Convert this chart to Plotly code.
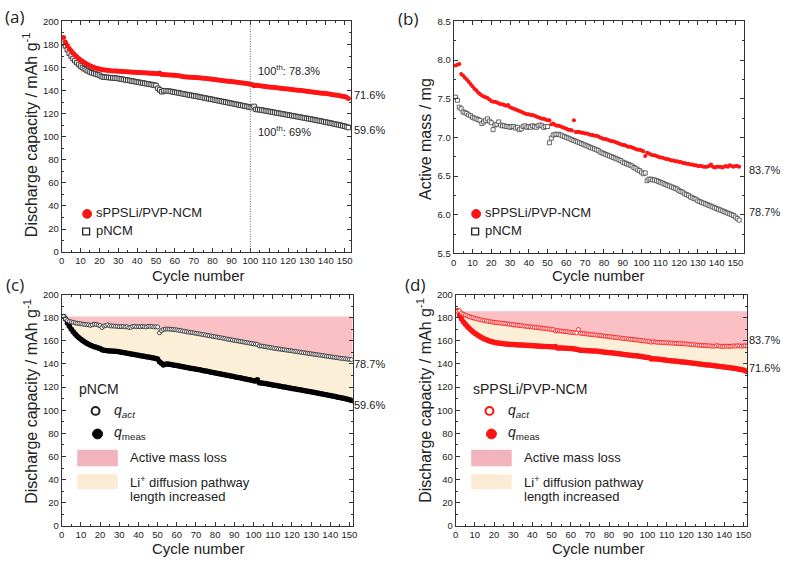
import plotly.graph_objects as go

W, H = 785, 563

# ---------------- data ----------------
cap_sppsli = [
    186.0, 182.0, 179.0, 176.5, 174.5, 172.6, 170.9, 169.3, 167.9, 166.6,
    165.4, 164.3, 163.3, 162.4, 161.6, 160.9, 160.3, 159.7, 159.2, 158.8,
    158.4, 158.1, 157.8, 157.6, 157.4, 157.2, 157.1, 157.0, 156.9, 156.8,
    156.7, 156.6, 156.5, 156.4, 156.3, 156.2, 156.1, 156.0, 155.9, 155.8,
    155.7, 155.6, 155.5, 155.4, 155.3, 155.2, 155.1, 155.0, 154.9, 154.8,
    154.7, 155.2, 153.9, 153.9, 153.8, 153.7, 153.6, 153.5, 153.4, 153.3,
    153.1, 152.9, 152.7, 152.2, 151.9, 151.8, 151.7, 151.6, 151.5, 151.4,
    151.3, 151.2, 151.1, 151.0, 150.8, 150.6, 150.4, 150.2, 150.0, 149.8,
    149.6, 149.4, 149.2, 149.0, 148.8, 148.6, 148.4, 148.2, 148.0, 147.8,
    147.6, 147.4, 147.2, 147.0, 146.8, 146.6, 146.4, 146.1, 145.9, 145.6,
    145.3, 144.3, 144.6, 144.4, 144.2, 144.0, 143.8, 143.6, 143.4, 143.2,
    143.0, 142.8, 142.6, 142.5, 142.3, 142.1, 141.9, 141.7, 141.6, 141.4,
    141.2, 141.0, 140.8, 140.6, 140.4, 140.2, 140.0, 139.8, 139.6, 139.4,
    139.2, 139.0, 138.8, 138.6, 138.4, 138.2, 138.0, 137.8, 137.6, 137.4,
    137.2, 137.0, 136.7, 136.5, 136.2, 136.0, 135.7, 135.4, 135.1, 134.8,
    134.2, 133.2,
]
cap_pncm = [
    181.0, 178.8, 175.5, 172.5, 170.0, 167.8, 165.9, 164.2, 162.7, 161.3,
    160.0, 158.9, 157.9, 157.0, 156.2, 155.5, 154.9, 154.4, 153.9, 153.4,
    152.3, 151.8, 151.6, 151.5, 151.3, 151.2, 151.0, 150.9, 150.7, 150.5,
    150.2, 149.9, 149.6, 149.3, 149.0, 148.7, 148.4, 148.1, 147.8, 147.5,
    147.2, 146.9, 146.6, 146.3, 146.0, 145.7, 145.4, 145.1, 144.8, 144.4,
    142.0, 140.6, 139.0, 139.8, 139.9, 139.7, 139.5, 139.2, 138.9, 138.6,
    138.3, 138.0, 137.7, 137.3, 137.0, 136.7, 136.4, 136.1, 135.8, 135.5,
    135.2, 134.9, 134.5, 134.2, 133.9, 133.6, 133.2, 132.9, 132.6, 132.3,
    131.9, 131.6, 131.3, 131.0, 130.6, 130.3, 130.0, 129.6, 129.3, 129.0,
    128.6, 128.3, 128.0, 127.6, 127.3, 127.0, 126.6, 126.3, 125.9, 125.5,
    125.2, 126.3, 123.7, 123.6, 123.4, 123.1, 122.8, 122.5, 122.2, 121.9,
    121.6, 121.3, 121.0, 120.7, 120.4, 120.1, 119.8, 119.5, 119.2, 118.9,
    118.6, 118.3, 118.0, 117.7, 117.4, 117.1, 116.8, 116.5, 116.2, 115.9,
    115.6, 115.3, 115.0, 114.7, 114.3, 114.0, 113.7, 113.4, 113.0, 112.7,
    112.4, 112.0, 111.7, 111.3, 111.0, 110.6, 110.3, 109.9, 109.5, 109.1,
    108.6, 108.0,
]
mass_sppsli = [
    7.93, 7.94, 7.95, 7.82, 7.80, 7.77, 7.75, 7.72, 7.69, 7.66,
    7.63, 7.61, 7.58, 7.56, 7.54, 7.53, 7.52, 7.51, 7.49, 7.47,
    7.46, 7.46, 7.45, 7.44, 7.43, 7.43, 7.42, 7.41, 7.42, 7.39,
    7.38, 7.37, 7.36, 7.35, 7.34, 7.33, 7.32, 7.31, 7.30, 7.30,
    7.29, 7.29, 7.28, 7.27, 7.26, 7.25, 7.24, 7.24, 7.23, 7.22,
    7.22, 7.17, 7.18, 7.16, 7.15, 7.15, 7.14, 7.13, 7.12, 7.11,
    7.10, 7.10, 7.09, 7.22, 7.07, 7.07, 7.07, 7.06, 7.06, 7.05,
    7.05, 7.04, 7.03, 7.03, 7.02, 7.02, 7.01, 7.00, 6.99, 6.98,
    6.98, 6.97, 6.96, 6.95, 6.95, 6.94, 6.93, 6.92, 6.91, 6.90,
    6.90, 6.89, 6.88, 6.88, 6.87, 6.86, 6.85, 6.84, 6.84, 6.83,
    6.82, 6.76, 6.80, 6.79, 6.78, 6.77, 6.77, 6.76, 6.75, 6.74,
    6.74, 6.73, 6.72, 6.72, 6.71, 6.70, 6.70, 6.69, 6.69, 6.68,
    6.68, 6.67, 6.67, 6.66, 6.66, 6.65, 6.65, 6.64, 6.64, 6.63,
    6.63, 6.63, 6.62, 6.62, 6.62, 6.63, 6.65, 6.62, 6.61, 6.62,
    6.62, 6.62, 6.61, 6.62, 6.63, 6.62, 6.64, 6.63, 6.62, 6.63,
    6.63, 6.62,
]
mass_pncm = [
    7.52, 7.48, 7.39, 7.37, 7.33, 7.32, 7.31, 7.29, 7.28, 7.26,
    7.25, 7.24, 7.23, 7.22, 7.18, 7.20, 7.22, 7.24, 7.21, 7.19,
    7.10, 7.16, 7.17, 7.20, 7.16, 7.15, 7.15, 7.14, 7.14, 7.13,
    7.14, 7.14, 7.12, 7.13, 7.10, 7.11, 7.14, 7.15, 7.13, 7.14,
    7.13, 7.15, 7.14, 7.13, 7.15, 7.16, 7.15, 7.13, 7.14, 7.14,
    6.93, 6.99, 7.03, 7.04, 7.04, 7.04, 7.03, 7.02, 7.01, 7.00,
    6.99, 6.98, 6.97, 6.96, 6.95, 6.94, 6.93, 6.92, 6.91, 6.90,
    6.89, 6.88, 6.87, 6.86, 6.85, 6.84, 6.83, 6.81, 6.80, 6.79,
    6.78, 6.77, 6.76, 6.75, 6.74, 6.73, 6.72, 6.71, 6.70, 6.68,
    6.67, 6.66, 6.65, 6.64, 6.63, 6.61, 6.60, 6.58, 6.57, 6.55,
    6.53, 6.54, 6.44, 6.46, 6.46, 6.45, 6.45, 6.44, 6.43, 6.42,
    6.41, 6.40, 6.39, 6.38, 6.37, 6.36, 6.35, 6.34, 6.33, 6.31,
    6.30, 6.29, 6.27, 6.26, 6.25, 6.23, 6.22, 6.21, 6.20, 6.18,
    6.17, 6.16, 6.15, 6.14, 6.13, 6.12, 6.11, 6.10, 6.09, 6.08,
    6.07, 6.06, 6.05, 6.04, 6.03, 6.02, 6.01, 6.00, 5.99, 5.97,
    5.95, 5.93,
]
qact_pncm = [
    181.0, 179.0, 177.5, 176.8, 176.3, 175.9, 175.5, 175.2, 175.0, 174.7,
    174.4, 174.2, 174.0, 173.8, 173.4, 173.8, 174.4, 174.2, 173.6, 173.2,
    171.5, 172.8, 173.2, 173.8, 173.0, 172.8, 172.8, 172.6, 172.5, 172.3,
    172.3, 172.4, 172.0, 172.2, 171.5, 171.7, 172.4, 172.6, 172.2, 172.3,
    172.1, 172.5, 172.3, 172.0, 172.5, 172.6, 172.4, 172.0, 172.1, 172.0,
    167.0, 168.8, 169.8, 170.2, 170.2, 170.1, 170.0, 169.8, 169.6, 169.4,
    169.1, 168.8, 168.5, 168.2, 167.9, 167.6, 167.4, 167.1, 166.8, 166.5,
    166.2, 165.9, 165.6, 165.3, 165.0, 164.7, 164.4, 164.1, 163.8, 163.5,
    163.2, 162.9, 162.6, 162.3, 162.0, 161.6, 161.3, 161.0, 160.7, 160.4,
    160.1, 159.8, 159.5, 159.2, 158.9, 158.6, 158.3, 158.0, 157.7, 157.4,
    157.2, 157.0, 155.6, 155.5, 155.3, 155.0, 154.7, 154.4, 154.1, 153.8,
    153.5, 153.3, 153.0, 152.8, 152.5, 152.3, 152.0, 151.8, 151.5, 151.3,
    151.0, 150.8, 150.5, 150.3, 150.0, 149.8, 149.5, 149.3, 149.0, 148.8,
    148.5, 148.3, 148.0, 147.8, 147.5, 147.3, 147.0, 146.8, 146.5, 146.3,
    146.0, 145.8, 145.5, 145.3, 145.0, 144.8, 144.6, 144.4, 144.2, 144.0,
    143.8,
]
qact_sppsli = [
    185.5, 186.0, 184.0, 183.0, 182.3, 181.6, 181.0, 180.4, 179.9, 179.4,
    179.0, 178.6, 178.2, 177.8, 177.5, 177.2, 176.9, 176.6, 176.3, 176.0,
    175.8, 175.6, 175.4, 175.2, 175.0, 174.8, 174.6, 174.4, 174.2, 173.9,
    173.7, 173.5, 173.3, 173.1, 172.9, 172.7, 172.5, 172.3, 172.1, 171.9,
    171.7, 171.5, 171.3, 171.1, 170.9, 170.7, 170.5, 170.3, 170.1, 169.9,
    169.7, 168.5, 168.8, 168.6, 168.4, 168.2, 168.0, 167.8, 167.6, 167.4,
    167.2, 167.0, 166.8, 169.8, 166.6, 166.4, 166.2, 166.0, 165.8, 165.6,
    165.4, 165.2, 165.0, 164.8, 164.6, 164.4, 164.2, 164.0, 163.8, 163.6,
    163.4, 163.2, 163.0, 162.8, 162.6, 162.4, 162.2, 162.0, 161.8, 161.6,
    161.4, 161.2, 161.0, 160.8, 160.6, 160.4, 160.2, 160.0, 159.8, 159.6,
    159.4, 158.8, 159.2, 159.0, 158.8, 158.7, 158.6, 158.5, 158.4, 158.3,
    158.2, 158.1, 158.0, 157.9, 157.8, 157.7, 157.6, 157.5, 157.4, 157.3,
    157.1, 156.9, 156.8, 156.6, 156.5, 156.3, 156.2, 156.1, 156.0, 155.9,
    155.8, 155.7, 155.5, 155.4, 155.4, 155.8, 155.6, 155.3, 155.2, 155.3,
    155.4, 155.3, 155.2, 155.4, 155.6, 155.4, 155.8, 155.6, 155.4, 155.6,
    155.7, 155.5,
]
cycles = list(range(1, 153))
cycles_c = list(range(1, len(qact_pncm) + 1))

RED = "#ff1414"
PINK = "rgba(250,185,188,0.9)"
BEIGE = "rgba(252,238,214,0.95)"
TXT = "#222222"
FONT = "Arial, Liberation Sans, sans-serif"

fig = go.Figure()

def px(x):
    return x / W

def py(y):
    return 1 - y / H

# panel boxes in pixels: (left, right, top, bottom)
boxes = {
    "": (59.3, 352.0, 15.7, 251.0),
    "2": (455.3, 748.3, 15.7, 252.3),
    "3": (59.3, 353.3, 294.3, 530.3),
    "4": (457.3, 751.7, 294.3, 530.3),
}
xranges = {"": [0, 153.6], "2": [0, 154.4], "3": [0, 151.7], "4": [0, 151.9]}
yranges = {"": [0, 200], "2": [5.5, 8.5], "3": [0, 200], "4": [0, 200]}

# ---------------- panel (a) ----------------
fig.add_trace(go.Scatter(x=cycles, y=cap_pncm, mode="markers", xaxis="x", yaxis="y",
                         marker=dict(symbol="square", size=4.5, color="white",
                                     line=dict(color="#3a3a3a", width=1)), showlegend=False))
fig.add_trace(go.Scatter(x=cycles, y=cap_sppsli, mode="markers", xaxis="x", yaxis="y",
                         marker=dict(symbol="circle", size=5, color=RED, line=dict(width=0)),
                         showlegend=False))

# ---------------- panel (b) ----------------
fig.add_trace(go.Scatter(x=cycles, y=mass_pncm, mode="markers", xaxis="x2", yaxis="y2",
                         marker=dict(symbol="square", size=4, color="white",
                                     line=dict(color="#444444", width=0.8)), showlegend=False))
fig.add_trace(go.Scatter(x=cycles, y=mass_sppsli, mode="markers", xaxis="x2", yaxis="y2",
                         marker=dict(symbol="circle", size=4, color=RED, line=dict(width=0)),
                         showlegend=False))

# ---------------- panels (c), (d) fills ----------------
def fills(xa, ya, xm, qm, xq, qa):
    top = [qa[0]] * len(xq)
    xr = xranges[xa[1:]][1]
    fig.add_trace(go.Scatter(x=xm, y=qm, mode="lines", line=dict(width=0),
                             xaxis=xa, yaxis=ya, showlegend=False, hoverinfo="skip"))
    fig.add_trace(go.Scatter(x=xq, y=qa, mode="lines", line=dict(width=0), fill="tonexty",
                             fillcolor=BEIGE, xaxis=xa, yaxis=ya, showlegend=False, hoverinfo="skip"))
    fig.add_trace(go.Scatter(x=xq + [xr], y=top + [top[-1]], mode="lines",
                             line=dict(width=0), xaxis=xa, yaxis=ya, showlegend=False,
                             hoverinfo="skip"))
    fig.add_trace(go.Scatter(x=xq + [xr], y=qa + [qa[-1]], mode="lines",
                             line=dict(width=0), fill="tonexty", fillcolor=PINK,
                             xaxis=xa, yaxis=ya, showlegend=False, hoverinfo="skip"))

fills("x3", "y3", cycles, cap_pncm, cycles_c, qact_pncm)
fig.add_trace(go.Scatter(x=cycles, y=cap_pncm, mode="markers", xaxis="x3", yaxis="y3",
                         marker=dict(symbol="circle", size=5.5, color="black", line=dict(width=0)),
                         showlegend=False))
fig.add_trace(go.Scatter(x=cycles_c, y=qact_pncm, mode="markers", xaxis="x3", yaxis="y3",
                         marker=dict(symbol="circle", size=4, color="white",
                                     line=dict(color="#333333", width=0.9)), showlegend=False))

fills("x4", "y4", cycles, cap_sppsli, cycles, qact_sppsli)
fig.add_trace(go.Scatter(x=cycles, y=cap_sppsli, mode="markers", xaxis="x4", yaxis="y4",
                         marker=dict(symbol="circle", size=5.5, color=RED, line=dict(width=0)),
                         showlegend=False))
fig.add_trace(go.Scatter(x=cycles, y=qact_sppsli, mode="markers", xaxis="x4", yaxis="y4",
                         marker=dict(symbol="circle", size=4, color="white",
                                     line=dict(color=RED, width=0.9)), showlegend=False))

# ---------------- axes ----------------
axis_common = dict(showline=True, linecolor="#333333", linewidth=1, mirror="ticks",
                   ticks="inside", ticklen=4, tickcolor="#333333", showgrid=False,
                   zeroline=False, tickangle=0,
                   tickfont=dict(family=FONT, size=9.5, color=TXT))
layout = {}
for k, (l, r, t, b) in boxes.items():
    xa = dict(axis_common, domain=[px(l), px(r)], range=xranges[k], dtick=10, tick0=0,
              minor=dict(ticks="inside", ticklen=2, dtick=5, tickcolor="#333333"),
              anchor="y" + k)
    if k == "2":
        ya = dict(axis_common, domain=[py(b), py(t)], range=yranges[k], dtick=0.5, tick0=5.5,
                  tickformat=".1f",
                  minor=dict(ticks="inside", ticklen=2, dtick=0.25, tickcolor="#333333"),
                  anchor="x" + k)
    else:
        ya = dict(axis_common, domain=[py(b), py(t)], range=yranges[k], dtick=20, tick0=0,
                  minor=dict(ticks="inside", ticklen=2, dtick=10, tickcolor="#333333"),
                  anchor="x" + k)
    layout["xaxis" + k] = xa
    layout["yaxis" + k] = ya

fig.update_layout(width=W, height=H, margin=dict(l=0, r=0, t=0, b=0), autosize=False,
                  plot_bgcolor="white", paper_bgcolor="white", showlegend=False,
                  font=dict(family=FONT, color=TXT), **layout)

# dotted line at 100th cycle in (a)
fig.add_shape(type="line", xref="x", yref="y domain", x0=100, x1=100, y0=0, y1=1,
              line=dict(color="#666666", width=1, dash="1px,1.5px"))

ann = []

def text(x, y, s, size=11, xanchor="left", angle=0, family=FONT):
    ann.append(dict(x=px(x), y=py(y), xref="paper", yref="paper", text=s, showarrow=False,
                    xanchor=xanchor, yanchor="middle", textangle=angle,
                    font=dict(family=family, size=size, color=TXT)))

# panel labels
for lab, x, y in [("(a)", 0, 11), ("(b)", 397, 13), ("(c)", 1, 284), ("(d)", 404, 284)]:
    text(x, y, lab, size=17, family="Open Sans")

# axis titles
for xc, yc in [(198, 275), (602, 275), (198, 553), (602, 553)]:
    text(xc, yc, "Cycle number", size=15, xanchor="center")
ytitle = "Discharge capacity / mAh g<sup>-1</sup>"
text(28, 131, ytitle, size=16, xanchor="center", angle=-90)
text(427, 136, "Active mass / mg", size=16, xanchor="center", angle=-90)
text(28, 403, ytitle, size=16, xanchor="center", angle=-90)
text(426, 402, ytitle, size=16, xanchor="center", angle=-90)

# percentages / notes
text(256, 65, "100<sup>th</sup>: 78.3%", size=11)
text(256, 128, "100<sup>th</sup>: 69%", size=11)
text(353, 91, "71.6%", size=11)
text(353, 126, "59.6%", size=11)
text(752, 167, "83.7%", size=11)
text(752, 210, "78.7%", size=11)
text(353, 365, "78.7%", size=11)
text(353, 407, "59.6%", size=11)
text(752, 341, "83.7%", size=11)
text(752, 369, "71.6%", size=11)

# legends (a), (b)
def circle(cx, cy, d, fill, line=None, lw=1):
    fig.add_shape(type="circle", xref="paper", yref="paper",
                  x0=px(cx - d / 2), x1=px(cx + d / 2), y0=py(cy + d / 2), y1=py(cy - d / 2),
                  fillcolor=fill, line=dict(color=line or fill, width=lw))

def rect(x0, x1, y0, y1, fill, line=None, lw=0):
    fig.add_shape(type="rect", xref="paper", yref="paper",
                  x0=px(x0), x1=px(x1), y0=py(y1), y1=py(y0),
                  fillcolor=fill, line=dict(color=line or fill, width=lw))

for ox, oy in [(0, 0), (393, 0)]:
    circle(85 + ox, 212 + oy, 9, RED)
    rect(80.5 + ox, 87.5 + ox, 226.5 + oy, 233.5 + oy, "white", "#222222", 1.3)
    text(92 + ox, 211 + oy, "sPPSLi/PVP-NCM", size=13)
    text(92 + ox, 229 + oy, "pNCM", size=13)

# legends (c), (d)
for ox, title, oc, fc in [(0, "pNCM", "#222222", "black"), (398, "sPPSLi/PVP-NCM", RED, RED)]:
    text(75 + ox, 391, title, size=14)
    circle(93.5 + ox, 413, 8, "white", oc, 2)
    circle(95.5 + ox, 436.5, 10, fc)
    text(110 + ox, 413, "<i>q</i><sub><i>act</i></sub>", size=14)
    text(110 + ox, 436, "<i>q</i><sub>meas</sub>", size=14)
    rect(75 + ox, 116 + ox, 452.5, 469.5, "rgba(242,180,188,1)")
    rect(75 + ox, 116 + ox, 477.5, 493, "rgba(252,236,214,1)")
    text(126 + ox, 461, "Active mass loss", size=13)
    text(126 + ox, 485, "Li<sup>+</sup> diffusion pathway", size=13)
    text(126 + ox, 500, "length increased", size=13)

fig.update_layout(annotations=ann)
fig.write_html("out.html")
